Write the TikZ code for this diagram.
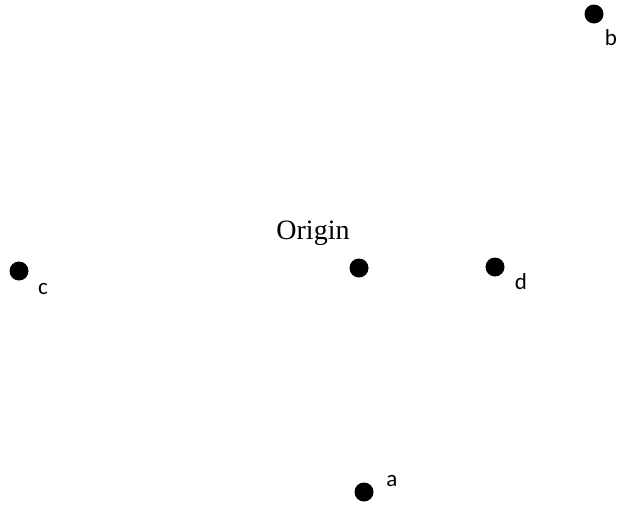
\documentclass[tikz,border=0pt]{standalone}
\usepackage{fontspec}
\setmainfont{Liberation Serif}
\newfontfamily\lblfont{Carlito}
\begin{document}
\begin{tikzpicture}[x=1pt,y=-1pt,
  pt/.style={circle,fill=black,inner sep=0pt,minimum size=19pt},
  lbl/.style={font=\lblfont\fontsize{23}{23}\selectfont,inner sep=0pt},
  ttl/.style={font=\fontsize{28}{28}\selectfont,inner sep=0pt}]
\useasboundingbox (0,0) rectangle (619,504);
\node[pt] (b) at (594,14) {};
\node[pt] (c) at (19,271) {};
\node[pt] (o) at (359,268) {};
\node[pt] (d) at (495,267) {};
\node[pt] (a) at (364,492) {};
\node[lbl] (lb) at (611,38) {b};
\node[lbl] (lc) at (43,289) {c};
\node[lbl] (ld) at (521,282) {d};
\node[lbl] (la) at (392,481) {a};
\node[ttl] (lo) at (313,233) {Origin};
\end{tikzpicture}
\end{document}
